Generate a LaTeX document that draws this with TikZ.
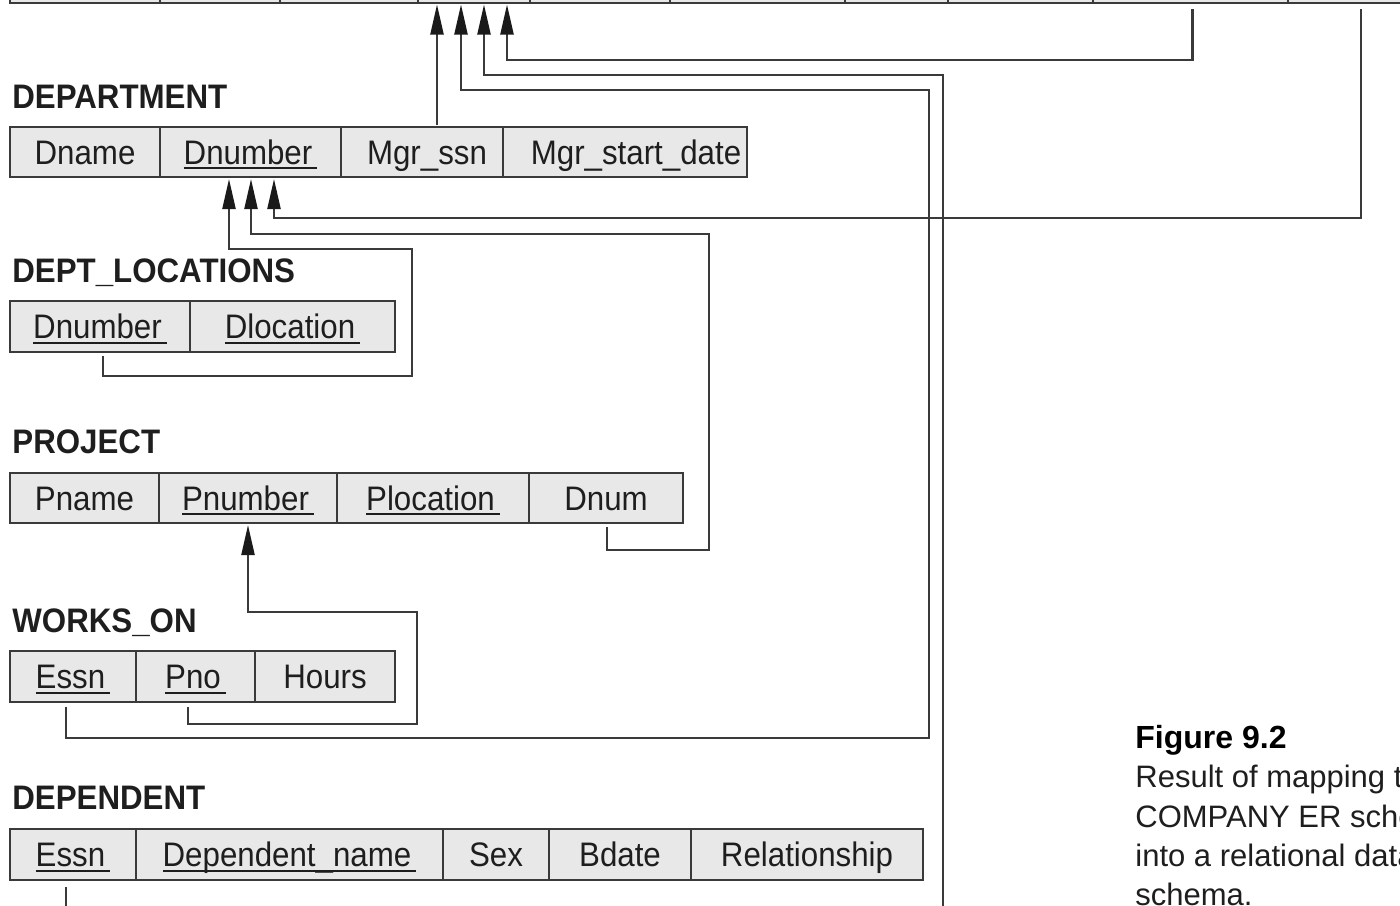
\documentclass[tikz,border=0pt]{standalone}
\usepackage{fontspec}
\setmainfont{Liberation Sans}
\newfontfamily\condf{Liberation Sans}[FakeStretch=0.92]
\usetikzlibrary{arrows.meta,calc}
\definecolor{cellgray}{HTML}{E8E8E8}
\definecolor{linegray}{HTML}{3A3A3A}
\definecolor{arrowblack}{HTML}{1A1A1A}
\definecolor{textblack}{HTML}{1E1E1E}
\newcommand\keyattr[1]{\setbox0=\hbox{#1\kern2.5pt}\rlap{\rule[-2.6pt]{\wd0}{1pt}}\box0}
\newcommand\cellat[6]{\node[cellbox, minimum width={(#3-#2)*0.5pt}, minimum height={(#5-#4)*0.5pt}] (#1) at ({(#2+#3)/2},{(#4+#5)/2}) {#6};}
\tikzset{
  cellbox/.style={draw=linegray, fill=cellgray, line width=1pt, inner sep=0pt, outer sep=0pt,
    text height=12.2pt, text depth=0pt, text=textblack, font=\condf\fontsize{17pt}{20pt}\selectfont},
  hdr/.style={anchor=base west, inner sep=0pt, text=textblack, font=\condf\bfseries\fontsize{17pt}{20pt}\selectfont},
  fk/.style={draw=linegray, line width=1.1pt, -{Triangle[length=15pt,width=6.5pt,color=arrowblack]}},
  capt/.style={anchor=base west, inner sep=0pt, text=textblack, font=\fontsize{15.5pt}{18pt}\selectfont},
  capthead/.style={anchor=base west, inner sep=0pt, text=black, font=\bfseries\fontsize{16pt}{18pt}\selectfont}
}
\begin{document}
\begin{tikzpicture}[x=0.5pt,y=-0.5pt]
\useasboundingbox (0,0) rectangle (1400,905);
\clip (0,0) rectangle (1400,905);
% EMPLOYEE (only bottom edge visible)
\cellat{e1}{10}{160}{-47}{3}{}
\cellat{e2}{160}{280}{-47}{3}{}
\cellat{e3}{280}{418}{-47}{3}{}
\cellat{e4}{418}{530}{-47}{3}{}
\cellat{e5}{530}{670}{-47}{3}{}
\cellat{e6}{670}{845}{-47}{3}{}
\cellat{e7}{845}{948}{-47}{3}{}
\cellat{e8}{948}{1093}{-47}{3}{}
\cellat{e9}{1093}{1288}{-47}{3}{}
\cellat{e10}{1288}{1432}{-47}{3}{}
% DEPARTMENT
\node[hdr] (hDept) at (12,108) {DEPARTMENT};
\cellat{d1}{10}{160}{127}{177}{Dname}
\cellat{dDnum}{160}{341}{127}{177}{\keyattr{Dnumber}}
\cellat{dMgr}{341}{503}{127}{177}{\hspace*{5pt}Mgr\_ssn}
\cellat{dStart}{503}{747}{127}{177}{\hspace*{11pt}Mgr\_start\_date}
% DEPT_LOCATIONS
\node[hdr] (hLoc) at (12,282) {DEPT\_LOCATIONS};
\cellat{lDnum}{10}{190}{301}{352}{\keyattr{Dnumber}}
\cellat{lLoc}{190}{395}{301}{352}{\keyattr{Dlocation}}
% PROJECT
\node[hdr] (hProj) at (12,453) {PROJECT};
\cellat{p1}{10}{159}{473}{523}{Pname}
\cellat{pPnum}{159}{337}{473}{523}{\keyattr{Pnumber}}
\cellat{pLoc}{337}{529}{473}{523}{\keyattr{Plocation}}
\cellat{pDnum}{529}{683}{473}{523}{Dnum}
% WORKS_ON
\node[hdr] (hWo) at (12,632) {WORKS\_ON};
\cellat{woEssn}{10}{136}{651}{702}{\keyattr{Essn}}
\cellat{woPno}{136}{255}{651}{702}{\keyattr{Pno}}
\cellat{woHours}{255}{395}{651}{702}{Hours}
% DEPENDENT
\node[hdr] (hDep) at (12,809) {DEPENDENT};
\cellat{dpEssn}{10}{136}{829}{880}{\keyattr{Essn}}
\cellat{dpName}{136}{443}{829}{880}{\keyattr{Dependent\_name}}
\cellat{dpSex}{443}{549}{829}{880}{Sex}
\cellat{dpBdate}{549}{691}{829}{880}{Bdate}
\cellat{dpRel}{691}{923}{829}{880}{Relationship}
% connectors
\draw[fk] ($(e9.south)+(2,6)$) -- ($(e9.south)+(2,57)$) -| ($(e4.south)+(33,1.5)$);
\draw[fk] ($(dpEssn.south)+(-7,7)$) -- ++(0,60) -- ++(877,0) |- ($(e4.south)+(10,72)$) -- ($(e4.south)+(10,1.5)$);
\draw[fk] ($(woEssn.south)+(-7,5)$) -- ++(0,31) -- ++(863,0) |- ($(e4.south)+(-13,87)$) -- ($(e4.south)+(-13,1.5)$);
\draw[fk] ($(dMgr.north)+(15,-2)$) -- ($(e4.south)+(-37,1.5)$);
\draw[fk] ($(e10.south)+(1,6)$) -- ($(e10.south)+(1,215)$) -| ($(dDnum.south)+(23.5,2)$);
\draw[fk] ($(lDnum.south)+(3,4)$) -- ++(0,20) -- ++(309,0) |- ($(dDnum.south)+(-21.5,72)$) -- ($(dDnum.south)+(-21.5,2)$);
\draw[fk] ($(pDnum.south)+(1,4)$) -- ++(0,23) -- ++(102,0) |- ($(dDnum.south)+(0.5,57)$) -- ($(dDnum.south)+(0.5,2)$);
\draw[fk] ($(woPno.south)+(-7.5,5)$) -- ++(0,17) -- ++(229,0) |- ($(pPnum.south)+(0,89)$) -- ($(pPnum.south)+(0,2)$);
% caption
\node[capthead] (cap0) at (1135,748) {Figure 9.2};
\node[capt] (cap1) at (1135,787) {Result of mapping the};
\node[capt] (cap2) at (1135,827) {COMPANY ER schema};
\node[capt] (cap3) at (1135,866) {into a relational database};
\node[capt] (cap4) at (1135,905) {schema.};
\end{tikzpicture}
\end{document}
